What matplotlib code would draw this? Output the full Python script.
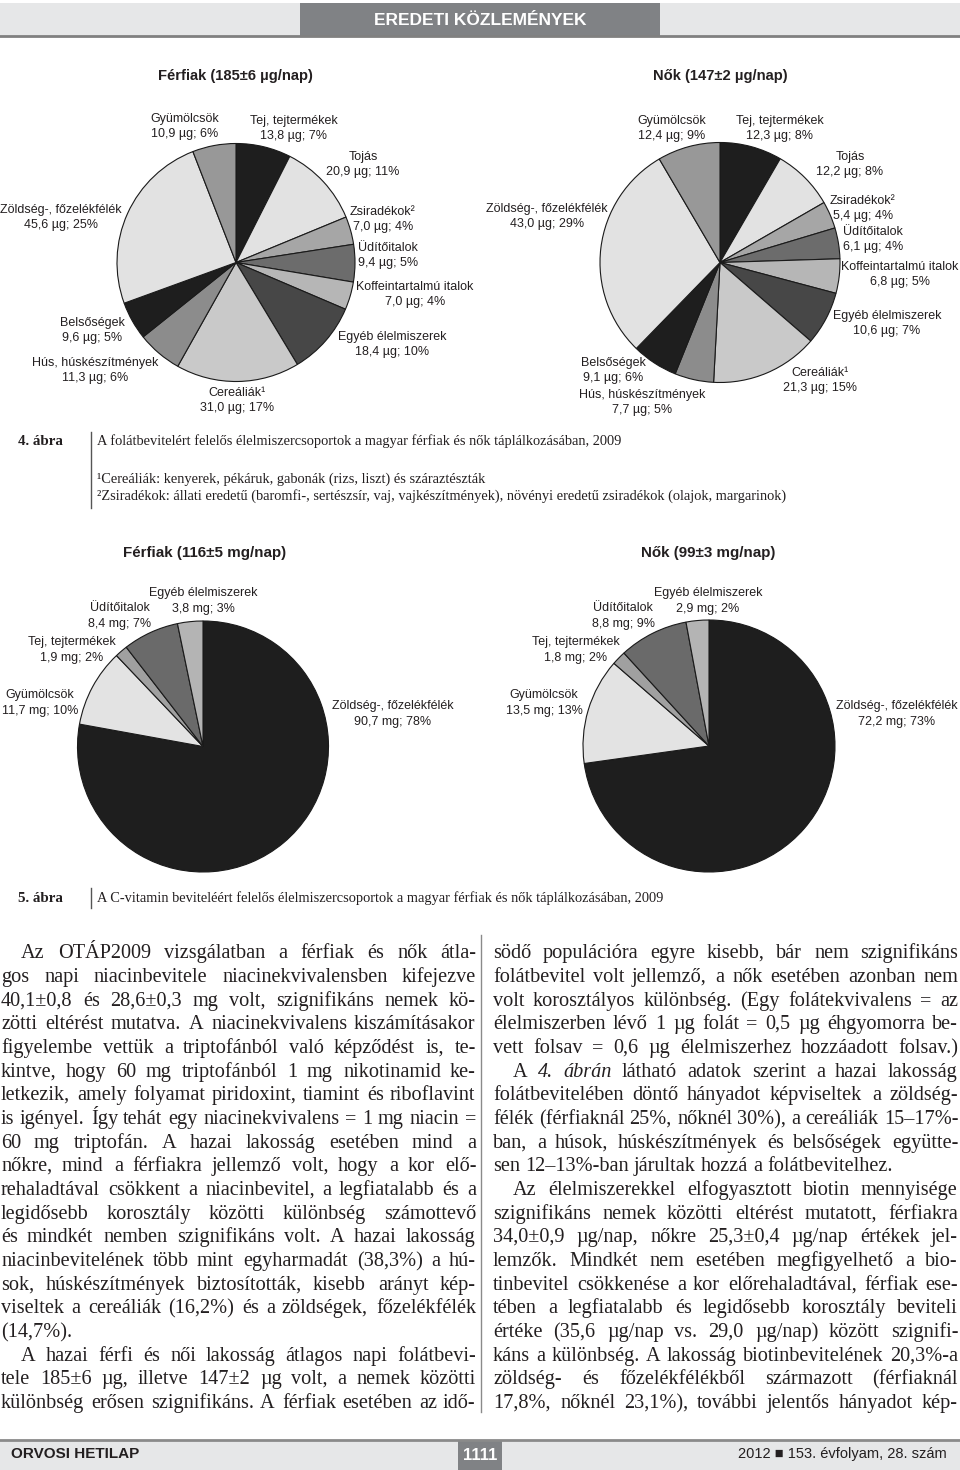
import matplotlib
matplotlib.use('Agg')
import matplotlib.pyplot as plt
from matplotlib.patches import Rectangle

plt.rcParams['font.family'] = ['Liberation Sans', 'DejaVu Sans']

W, H = 960, 1470
INK = '#231f20'
SERIF = ['Liberation Serif', 'DejaVu Serif']

# --- adatok (4. ábra: folát, 5. ábra: C-vitamin) ---
folate_names = ['Tej, tejtermékek', 'Tojás', 'Zsiradékok²', 'Üdítőitalok',
                'Koffeintartalmú italok', 'Egyéb élelmiszerek', 'Cereáliák¹',
                'Hús, húskészítmények', 'Belsőségek', 'Zöldség-, főzelékfélék',
                'Gyümölcsök']
folate_men = [13.8, 20.9, 7.0, 9.4, 7.0, 18.4, 31.0, 11.3, 9.6, 45.6, 10.9]
folate_men_pct = [7, 11, 4, 5, 4, 10, 17, 6, 5, 25, 6]
folate_women = [12.3, 12.2, 5.4, 6.1, 6.8, 10.6, 21.3, 7.7, 9.1, 43.0, 12.4]
folate_women_pct = [8, 8, 4, 4, 5, 7, 15, 5, 6, 29, 9]
folate_colors = ['#1e1e1e', '#e2e2e2', '#a6a6a6', '#6c6c6c', '#b6b6b6',
                 '#474747', '#c9c9c9', '#8c8c8c', '#1e1e1e', '#e2e2e2', '#989898']

vitc_names = ['Zöldség-, főzelékfélék', 'Gyümölcsök', 'Tej, tejtermékek',
              'Üdítőitalok', 'Egyéb élelmiszerek']
vitc_men = [90.7, 11.7, 1.9, 8.4, 3.8]
vitc_men_pct = [78, 10, 2, 7, 3]
vitc_women = [72.2, 13.5, 1.8, 8.8, 2.9]
vitc_women_pct = [73, 13, 2, 9, 2]
vitc_colors = ['#1e1e1e', '#e3e3e3', '#a0a0a0', '#6a6a6a', '#b4b4b4']

titles = ['Férfiak (185±6 µg/nap)', 'Nők (147±2 µg/nap)',
          'Férfiak (116±5 mg/nap)', 'Nők (99±3 mg/nap)']

# --- elrendezés (pixel) ---
pie_geom = [(236, 262.5, 119), (720, 262.5, 120), (203, 746.5, 125.5), (709, 746, 126)]
title_pos = [(235, 76), (720, 76), (205, 553), (708, 553)]
lab_folate_m = [(294, 121), (363, 157), (383, 212), (388, 248), (415, 287), (392, 337),
                (237, 393), (95, 363), (92, 323), (61, 210), (185, 119)]
lab_folate_w = [(780, 121), (850, 157), (863, 201), (873, 232), (900, 267), (887, 316),
                (820, 373), (642, 395), (613, 363), (547, 209), (672, 121)]
lab_vitc_m = [(393, 706), (40, 695), (72, 642), (120, 608), (203, 593)]
lab_vitc_w = [(897, 706), (544, 695), (576, 642), (623, 608), (708, 593)]

left_col = [
    ("Az OTÁP2009 vizsgálatban a férfiak és nők átla-", 1, 1),
    ("gos napi niacinbevitele niacinekvivalensben kifejezve", 0, 1),
    ("40,1±0,8 és 28,6±0,3 mg volt, szignifikáns nemek kö-", 0, 1),
    ("zötti eltérést mutatva. A niacinekvivalens kiszámításakor", 0, 1),
    ("figyelembe vettük a triptofánból való képződést is, te-", 0, 1),
    ("kintve, hogy 60 mg triptofánból 1 mg nikotinamid ke-", 0, 1),
    ("letkezik, amely folyamat piridoxint, tiamint és riboflavint", 0, 1),
    ("is igényel. Így tehát egy niacinekvivalens = 1 mg niacin =", 0, 1),
    ("60 mg triptofán. A hazai lakosság esetében mind a", 0, 1),
    ("nőkre, mind a férfiakra jellemző volt, hogy a kor elő-", 0, 1),
    ("rehaladtával csökkent a niacinbevitel, a legfiatalabb és a", 0, 1),
    ("legidősebb korosztály közötti különbség számottevő", 0, 1),
    ("és mindkét nemben szignifikáns volt. A hazai lakosság", 0, 1),
    ("niacinbevitelének több mint egyharmadát (38,3%) a hú-", 0, 1),
    ("sok, húskészítmények biztosították, kisebb arányt kép-", 0, 1),
    ("viseltek a cereáliák (16,2%) és a zöldségek, főzelékfélék", 0, 1),
    ("(14,7%).", 0, 0),
    ("A hazai férfi és női lakosság átlagos napi folátbevi-", 1, 1),
    ("tele 185±6 µg, illetve 147±2 µg volt, a nemek közötti", 0, 1),
    ("különbség erősen szignifikáns. A férfiak esetében az idő-", 0, 1),
]
right_col = [
    ("södő populációra egyre kisebb, bár nem szignifikáns", 0, 1),
    ("folátbevitel volt jellemző, a nők esetében azonban nem", 0, 1),
    ("volt korosztályos különbség. (Egy folátekvivalens = az", 0, 1),
    ("élelmiszerben lévő 1 µg folát = 0,5 µg éhgyomorra be-", 0, 1),
    ("vett folsav = 0,6 µg élelmiszerhez hozzáadott folsav.)", 0, 1),
    ("A _4._ _ábrán_ látható adatok szerint a hazai lakosság", 1, 1),
    ("folátbevitelében döntő hányadot képviseltek a zöldség-", 0, 1),
    ("félék (férfiaknál 25%, nőknél 30%), a cereáliák 15–17%-", 0, 1),
    ("ban, a húsok, húskészítmények és belsőségek együtte-", 0, 1),
    ("sen 12–13%-ban járultak hozzá a folátbevitelhez.", 0, 0),
    ("Az élelmiszerekkel elfogyasztott biotin mennyisége", 1, 1),
    ("szignifikáns nemek közötti eltérést mutatott, férfiakra", 0, 1),
    ("34,0±0,9 µg/nap, nőkre 25,3±0,4 µg/nap értékek jel-", 0, 1),
    ("lemzők. Mindkét nem esetében megfigyelhető a bio-", 0, 1),
    ("tinbevitel csökkenése a kor előrehaladtával, férfiak ese-", 0, 1),
    ("tében a legfiatalabb és legidősebb korosztály beviteli", 0, 1),
    ("értéke (35,6 µg/nap vs. 29,0 µg/nap) között szignifi-", 0, 1),
    ("káns a különbség. A lakosság biotinbevitelének 20,3%-a", 0, 1),
    ("zöldség- és főzelékfélékből származott (férfiaknál", 0, 1),
    ("17,8%, nőknél 23,1%), további jelentős hányadot kép-", 0, 1),
]

fig = plt.figure(figsize=(W / 100, H / 100), dpi=100)
renderer = fig.canvas.get_renderer()
bg = fig.add_axes([0, 0, 1, 1])
bg.set_xlim(0, W)
bg.set_ylim(H, 0)
bg.axis('off')


def width(t):
    return t.get_window_extent(renderer).width


# fejléc
bg.add_patch(Rectangle((0, 3), W, 33, color='#e6e7e8', lw=0))
bg.plot([0, W], [36, 36], color='#808080', lw=2)
bg.add_patch(Rectangle((300, 3), 360, 34, color='#808285', lw=0))
bg.text(480, 20, 'EREDETI KÖZLEMÉNYEK', color='white',
        fontsize=12.5, fontweight='bold', ha='center', va='center')

# lábléc
bg.add_patch(Rectangle((0, 1441), W, 29, color='#e6e7e8', lw=0))
bg.plot([0, W], [1440, 1440], color='#8a8a8a', lw=2)
bg.add_patch(Rectangle((458, 1441), 44, 29, color='#808285', lw=0))
bg.text(480, 1456, '1111', color='white', fontsize=12, fontweight='bold',
        ha='center', va='center')
bg.text(11, 1454, 'ORVOSI HETILAP', color=INK, fontsize=11, fontweight='bold',
        va='center')
bg.text(947, 1454, '2012 ■ 153. évfolyam, 28. szám', color=INK, fontsize=10.5,
        ha='right', va='center')


def fmt(v, unit, p):
    return f'{v:.1f}'.replace('.', ',') + f' {unit}; {p}%'


def draw_pie(k, vals, pct, names, colors, unit, lab_pos, gap):
    cx, cy, r = pie_geom[k]
    p = 1.03
    ax = fig.add_axes([(cx - r * p) / W, 1 - (cy + r * p) / H, 2 * r * p / W, 2 * r * p / H])
    ax.pie(vals, colors=colors, startangle=90, counterclock=False, radius=1,
           wedgeprops=dict(edgecolor='#1a1a1a', linewidth=0.8))
    ax.set_xlim(-p, p)
    ax.set_ylim(-p, p)
    ax.set_aspect('equal')
    ax.axis('off')
    tx, ty = title_pos[k]
    bg.text(tx, ty, titles[k], fontsize=10.6 if k < 2 else 10.9, fontweight='bold',
            color=INK, ha='center', va='center')
    for (x, y), name, v, pc in zip(lab_pos, names, vals, pct):
        bg.text(x, y, name, fontsize=9, color=INK, ha='center', va='center')
        bg.text(x, y + gap, fmt(v, unit, pc), fontsize=9, color=INK, ha='center', va='center')


draw_pie(0, folate_men, folate_men_pct, folate_names, folate_colors, 'µg', lab_folate_m, 14.5)
draw_pie(1, folate_women, folate_women_pct, folate_names, folate_colors, 'µg', lab_folate_w, 14.5)
draw_pie(2, vitc_men, vitc_men_pct, vitc_names, vitc_colors, 'mg', lab_vitc_m, 15.5)
draw_pie(3, vitc_women, vitc_women_pct, vitc_names, vitc_colors, 'mg', lab_vitc_w, 15.5)

# ábraaláírások
CAP = 10.4
for y, s in [(441, '4. ábra'), (898, '5. ábra')]:
    bg.text(18, y, s, family=SERIF, fontweight='bold', fontsize=10.8, color=INK, va='center')
bg.plot([91, 91], [432, 508], color='#555555', lw=1)
bg.plot([91, 91], [888, 908], color='#555555', lw=1)
cap_lines = [
    (441, 'A folátbevitelért felelős élelmiszercsoportok a magyar férfiak és nők táplálkozásában, 2009'),
    (479, '¹Cereáliák: kenyerek, pékáruk, gabonák (rizs, liszt) és száraztészták'),
    (496, '²Zsiradékok: állati eredetű (baromfi-, sertészsír, vaj, vajkészítmények), '
          'növényi eredetű zsiradékok (olajok, margarinok)'),
    (898, 'A C-vitamin beviteléért felelős élelmiszercsoportok a magyar férfiak és nők táplálkozásában, 2009'),
]
for y, s in cap_lines:
    bg.text(97, y, s, family=SERIF, fontsize=CAP, color=INK, va='center')

# szövegtörzs, sorkizárt
BODY = 14.6
BASE0, LEAD = 958.5, 23.65


def put_line(line, x0, x1, y, indent, justify):
    x0 = x0 + 20 * indent
    y = round(y)
    texts = []
    for w in line.split(' '):
        style = 'normal'
        if w.startswith('_') and w.endswith('_'):
            w, style = w[1:-1], 'italic'
        texts.append(bg.text(x0, y, w, family=SERIF, fontsize=BODY, style=style,
                             color=INK, va='baseline'))
    ws = [width(t) for t in texts]
    if justify and len(texts) > 1:
        gap = (x1 - x0 - sum(ws)) / (len(texts) - 1)
    else:
        gap = BODY * 100 / 72 * 0.25
    x = x0
    for t, w in zip(texts, ws):
        t.set_x(round(x))
        x += w + gap


for i, (line, ind, just) in enumerate(left_col):
    put_line(line, 1, 476, BASE0 + i * LEAD, ind, just)
for i, (line, ind, just) in enumerate(right_col):
    put_line(line, 493, 958, BASE0 + i * LEAD, ind, just)
bg.plot([480.5, 480.5], [935, 1412], color='#8a8a8a', lw=1)

fig.savefig('out.png', dpi=100)
